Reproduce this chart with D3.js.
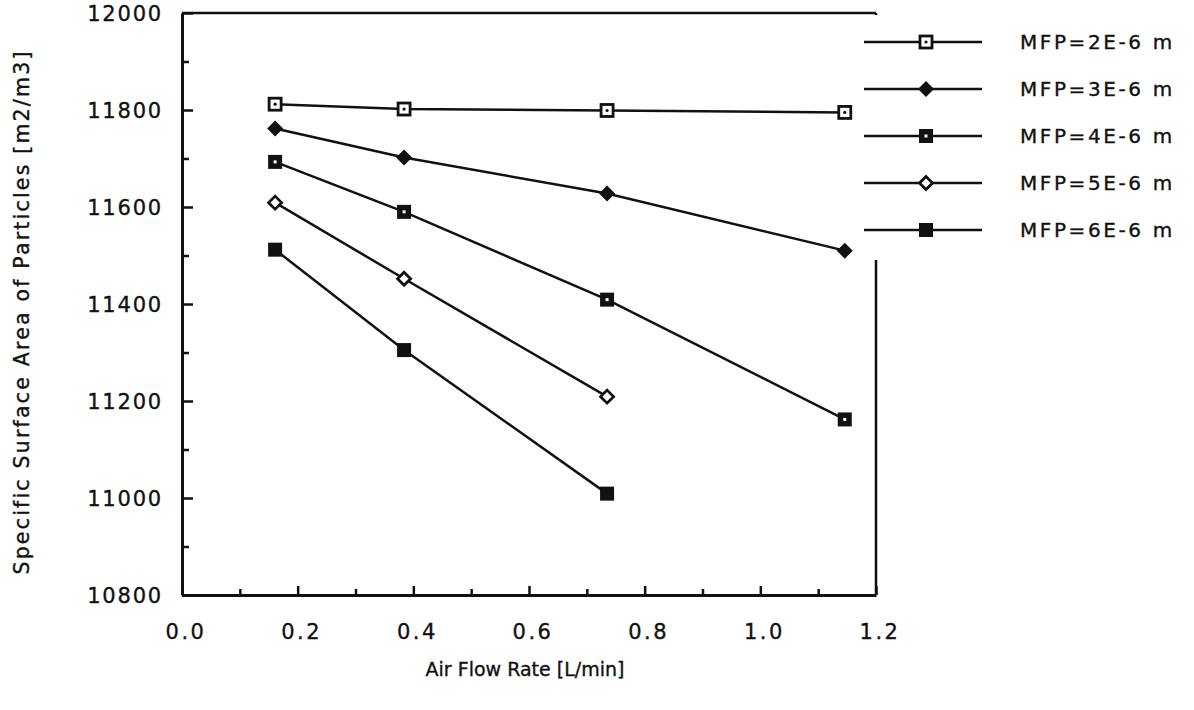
<!DOCTYPE html>
<html><head><meta charset="utf-8">
<script src="https://cdn.jsdelivr.net/npm/d3@7"></script>
<style>
body{margin:0;background:#fff;}
text{font-family:"DejaVu Sans",sans-serif;fill:#111;stroke:#111;stroke-width:0.35px;}
</style></head>
<body><svg id="c" width="1194" height="710"></svg>
<script>
const flowRates = [0.161, 0.384, 0.735, 1.146];
const seriesNames = ["MFP=2E-6 m","MFP=3E-6 m","MFP=4E-6 m","MFP=5E-6 m","MFP=6E-6 m"];
const mfp2 = [11812, 11802, 11799, 11795];
const mfp3 = [11762, 11702, 11628, 11510];
const mfp4 = [11693, 11590, 11409, 11162];
const mfp5 = [11609, 11452, 11209];
const mfp6 = [11512, 11305, 11009];
const markerTypes = ["openSquareDot","filledDiamond","filledSquareDot","openDiamond","filledSquare"];
const xTicks = [0.0,0.2,0.4,0.6,0.8,1.0,1.2];
const yTicks = [10800,11000,11200,11400,11600,11800,12000];

const seriesValues = [mfp2,mfp3,mfp4,mfp5,mfp6];
const svg = d3.select("#c");
const x = d3.scaleLinear().domain([0,1.2]).range([182,876]);
const y = d3.scaleLinear().domain([10800,12000]).range([595,13]);
const ink = "#111";

// frame: top and right
svg.append("line").attr("x1",x(0)).attr("x2",x(1.2)).attr("y1",y(12000)).attr("y2",y(12000)).attr("stroke",ink).attr("stroke-width",2.5);
svg.append("line").attr("x1",x(1.2)).attr("x2",x(1.2)).attr("y1",y(12000)).attr("y2",y(10800)).attr("stroke",ink).attr("stroke-width",2.5);

// axes
const yAxis = d3.axisRight(y).tickValues(d3.range(10800,12001,100)).tickSize(0).tickFormat("");
const gy = svg.append("g").attr("transform",`translate(${x(0)},0)`).call(yAxis);
gy.select(".domain").attr("stroke",ink).attr("stroke-width",3);
gy.selectAll(".tick line").attr("x2",d=> d%200===0 ? 11 : 7).attr("stroke",ink).attr("stroke-width",2.5);
const xAxis = d3.axisTop(x).tickValues(d3.range(0,13).map(i=>i/10)).tickSize(0).tickFormat("");
const gx = svg.append("g").attr("transform",`translate(0,${y(10800)})`).call(xAxis);
gx.select(".domain").attr("stroke",ink).attr("stroke-width",3);
gx.selectAll(".tick line").attr("y2",(d,i)=> i%2===0 ? -9 : -6).attr("stroke",ink).attr("stroke-width",2.5);

// tick labels
svg.append("g").selectAll("text").data(yTicks).join("text")
  .attr("x",163).attr("y",d=>y(d)+8).attr("text-anchor","end")
  .style("font-size","21px").style("letter-spacing","1.8px").text(d=>d);
svg.append("g").selectAll("text").data(xTicks).join("text")
  .attr("x",d=>x(d)+4).attr("y",639).attr("text-anchor","middle")
  .style("font-size","21px").style("letter-spacing","2.5px").text(d=>d.toFixed(1));

// titles
svg.append("text").attr("transform",`translate(29,${(y(10800)+y(12000))/2+8}) rotate(-90)`)
  .attr("text-anchor","middle").style("font-size","20.5px").style("letter-spacing","2.2px")
  .text("Specific Surface Area of Particles [m2/m3]");
svg.append("text").attr("x",525).attr("y",676).attr("text-anchor","middle")
  .style("font-size","19px").style("letter-spacing","0px").text("Air Flow Rate [L/min]");

// markers
function drawMarker(g, type){
  if(type==="openSquareDot"){
    g.append("rect").attr("x",-6).attr("y",-6).attr("width",12).attr("height",12).attr("fill","#fff").attr("stroke",ink).attr("stroke-width",2.8);
    g.append("circle").attr("r",1.6).attr("fill",ink);
  } else if(type==="filledDiamond"){
    g.append("path").attr("d","M0,-8L8,0L0,8L-8,0Z").attr("fill",ink);
  } else if(type==="filledSquareDot"){
    g.append("rect").attr("x",-7).attr("y",-7).attr("width",14).attr("height",14).attr("fill",ink);
    g.append("rect").attr("x",-1.5).attr("y",-1.5).attr("width",3).attr("height",3).attr("fill","#fff");
  } else if(type==="openDiamond"){
    g.append("path").attr("d","M0,-6.5L6.5,0L0,6.5L-6.5,0Z").attr("fill","#fff").attr("stroke",ink).attr("stroke-width",2.8);
  } else {
    g.append("rect").attr("x",-7).attr("y",-7).attr("width",14).attr("height",14).attr("fill",ink);
  }
}

const line = d3.line().x(d=>x(d[0])).y(d=>y(d[1]));
seriesValues.forEach((vals,si)=>{
  const pts = vals.map((v,i)=>[flowRates[i],v]);
  svg.append("path").datum(pts).attr("d",line).attr("fill","none").attr("stroke",ink).attr("stroke-width",2.5);
  pts.forEach(p=>{
    const g = svg.append("g").attr("transform",`translate(${x(p[0])},${y(p[1])})`);
    drawMarker(g, markerTypes[si]);
  });
});

// legend (white box covers upper right frame)
const leg = svg.append("g");
leg.append("rect").attr("x",861).attr("y",15).attr("width",333).attr("height",245).attr("fill","#fff");
seriesNames.forEach((name,i)=>{
  const ly = 42 + i*47;
  leg.append("line").attr("x1",864).attr("x2",982).attr("y1",ly).attr("y2",ly).attr("stroke",ink).attr("stroke-width",2.5);
  const g = leg.append("g").attr("transform",`translate(926,${ly})`);
  drawMarker(g, markerTypes[i]);
  leg.append("text").attr("x",1020).attr("y",ly+7).style("font-size","20px").style("letter-spacing","2.6px").text(name);
});
</script></body></html>
